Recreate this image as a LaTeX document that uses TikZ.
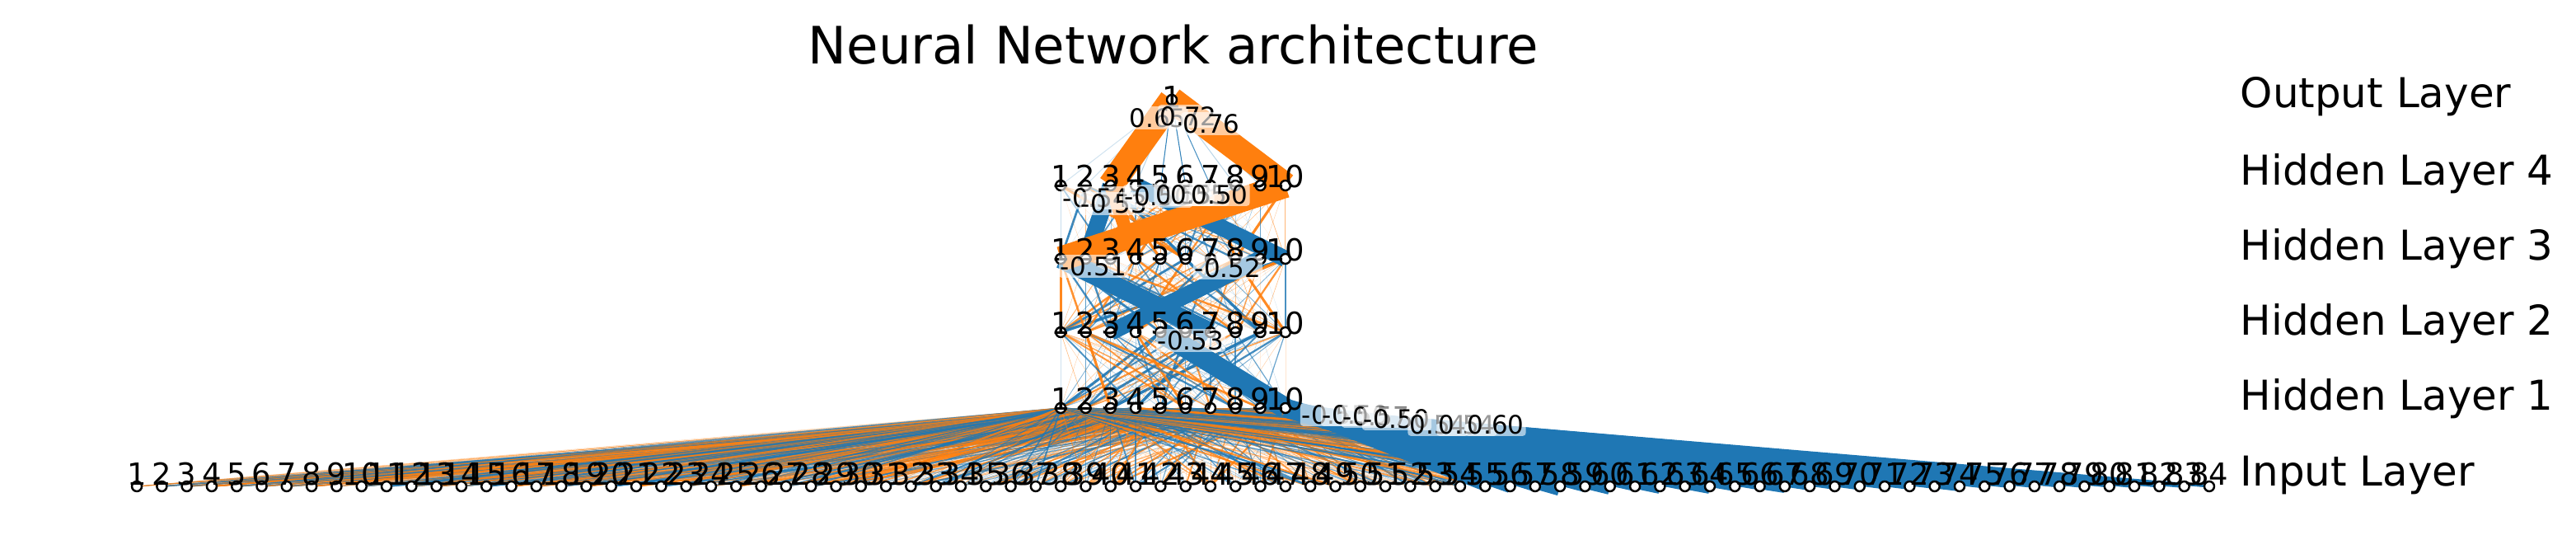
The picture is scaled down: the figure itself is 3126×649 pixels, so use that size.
\documentclass[tikz,border=0pt]{standalone}
\usepackage{fontspec}
\setmainfont{DejaVu Sans}
\usetikzlibrary{calc}
\definecolor{posc}{RGB}{255,127,14}
\definecolor{negc}{RGB}{31,119,180}
\pgfdeclarelayer{edges}
\pgfsetlayers{edges,main}

\begin{document}
\begin{tikzpicture}[x=0.01cm, y=-0.01cm,
    unit/.style={circle, draw=black, fill=white, line width=0.7pt, minimum size=0.12cm, inner sep=0pt},
    numtxt/.style={font=\fontsize{10.5}{12}\selectfont, inner sep=0pt},
    wtxt/.style={font=\fontsize{8.8}{10}\selectfont, fill=white, fill opacity=0.6, text opacity=1, inner sep=0.6pt, rounded corners=1pt},
    layertxt/.style={anchor=base west, inner sep=0pt, font=\fontsize{14.2}{17}\selectfont}]
  \useasboundingbox (0,0) rectangle (3126,649);

  % --- title and layer names ---
  \node[anchor=base, font=\fontsize{17.8}{21}\selectfont] (title) at (1424,78) {Neural Network architecture};
  \node[layertxt] (lout) at (2718,131) {Output Layer};
  \node[layertxt] (lh4) at (2718,225) {Hidden Layer 4};
  \node[layertxt] (lh3) at (2718,316) {Hidden Layer 3};
  \node[layertxt] (lh2) at (2718,407) {Hidden Layer 2};
  \node[layertxt] (lh1) at (2718,498) {Hidden Layer 1};
  \node[layertxt] (lin) at (2718,590) {Input Layer};

  % --- units ---
  \foreach \k in {1,...,84} {
    \pgfmathsetmacro{\xx}{1423.5+(\k-42.5)*30.3}
    \node[unit] (i\k) at (\xx,590) {};
  }
  \foreach \L/\yy in {a/495, b/403, c/314, d/225} {
    \foreach \j in {1,...,10} {
      \pgfmathsetmacro{\xx}{1423.5+(\j-5.5)*30.3}
      \node[unit] (\L\j) at (\xx,\yy) {};
    }
  }
  \node[unit] (o) at (1422,121) {};

  % --- unit numbers ---
  \foreach \k in {1,...,84}
    \node[numtxt] (ti\k) at ($(i\k)+(0,-15)$) {\k};
  \foreach \L in {a,b,c,d}
    \foreach \j in {1,...,10}
      \node[numtxt] (t\L\j) at ($(\L\j)+(0,-11)$) {\j};
  \node[numtxt] (to) at ($(o)+(0,-3)$) {1};

  \begin{pgfonlayer}{edges}
    \pgfmathsetseed{4242}
    % thin weights, input -> hidden 1
    \foreach \k in {1,...,84} {
      \foreach \j in {1,...,10} {
        \pgfmathsetmacro{\w}{rand}
        \pgfmathsetmacro{\aw}{abs(\w)}
        \pgfmathsetmacro{\lw}{0.08+0.55*\aw*\aw}
        \pgfmathsetmacro{\op}{0.12+0.75*\aw}
        \ifdim\w pt>-0.2pt \def\lc{posc}\else\def\lc{negc}\fi
        \draw[\lc, line width=\lw pt, opacity=\op] (i\k.center) -- (a\j.center);
      }
    }
    % thin weights between hidden layers
    \foreach \U/\D in {a/b, b/c, c/d} {
      \foreach \p in {1,...,10} {
        \foreach \q in {1,...,10} {
          \pgfmathsetmacro{\w}{rand}
          \pgfmathsetmacro{\aw}{abs(\w)}
          \pgfmathsetmacro{\lw}{0.08+0.9*\aw*\aw*\aw}
          \pgfmathsetmacro{\op}{0.1+0.85*\aw}
          \ifdim\w pt>0pt \def\lc{posc}\else\def\lc{negc}\fi
          \draw[\lc, line width=\lw pt, opacity=\op] (\U\p.center) -- (\D\q.center);
        }
      }
    }
    \foreach \q/\op in {1/0.2, 2/0.2, 4/0.3, 5/0.9, 6/0.9, 7/0.8, 8/0.3, 9/0.3}
      \draw[negc, line width=0.3pt, opacity=\op] (d\q.center) -- (o.center);

    % strong weights (width in px)
    \foreach \u/\v/\c/\w in {a10/i55/negc/12, a10/i56/negc/16, a10/i57/negc/13,
        a10/i58/negc/23, a10/i59/negc/14, a10/i60/negc/20, a10/i61/negc/12,
        a10/i62/negc/18, a10/i63/negc/10, a10/i64/negc/18, a10/i65/negc/12, a10/i66/negc/9,
        a10/i67/negc/16, a10/i68/negc/10, a10/i69/negc/8, a10/i70/negc/9, a10/i71/negc/7,
        a10/i72/negc/8, a10/i73/negc/6, a10/i74/negc/12, a10/i75/negc/5, a10/i76/negc/4,
        a10/i77/negc/4, a10/i78/negc/3, a10/i79/negc/4, a10/i80/negc/3, a10/i81/negc/4,
        a10/i82/negc/3, a10/i83/negc/4, a10/i84/negc/3,
        b5/a10/negc/25,
        c1/b7/negc/23, c9/b3/negc/20,
        d3/c2/negc/20, d4/c10/negc/20, d3/c4/posc/16, d10/c1/posc/30,
        o/d3/posc/31, o/d10/posc/31}
      \draw[\c, line width=\w*0.2845pt] (\u.center) -- (\v.center);
  \end{pgfonlayer}

  % --- weight labels ---
  \foreach \n/\x/\y/\t in {w1/1405/143/0.65, w2/1442/141/0.72, w3/1470/150/0.76,
      w4/1330/240/-0.54, w5/1352/247/-0.53, w6/1405/238/-0.50, w7/1437/236/0.53, w8/1455/236/0.55, w9/1480/236/0.50,
      w10/1327/323/-0.51, w11/1490/325/-0.52,
      w12/1445/413/-0.53,
      w13/1620/503/-0.55, w14/1645/503/-0.50, w15/1670/505/-0.57, w16/1695/508/-0.50,
      w17/1745/515/0.54, w18/1780/515/0.54, w19/1815/515/0.60}
    \node[wtxt] (\n) at (\x,\y) {\t};
\end{tikzpicture}
\end{document}
